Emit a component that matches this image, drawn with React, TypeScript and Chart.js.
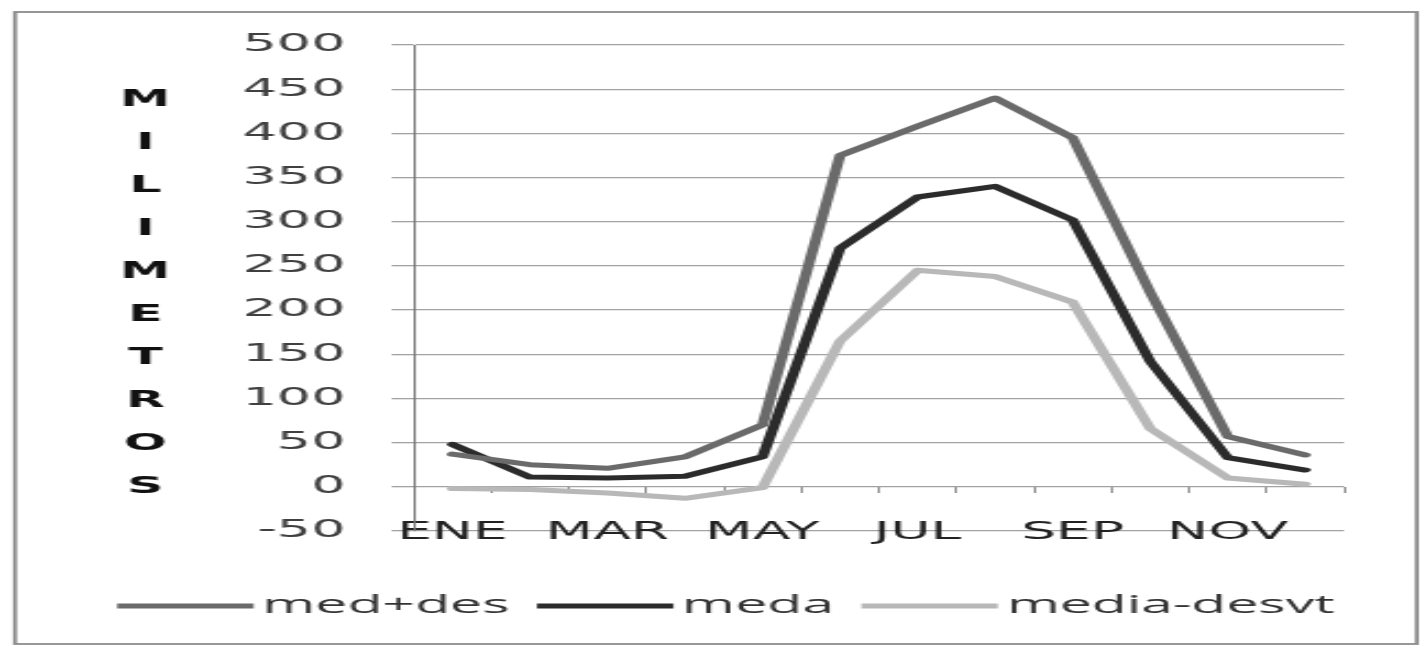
import React, { useEffect, useRef } from 'react';
import { Chart, registerables } from 'chart.js';

Chart.register(...registerables);

// ---- data ----
const MONTHS = ['ENE', 'FEB', 'MAR', 'ABR', 'MAY', 'JUN', 'JUL', 'AGO', 'SEP', 'OCT', 'NOV', 'DIC'];
const MED_DES = [37, 25, 21, 34, 70, 375, 408, 440, 395, 220, 57, 36];
const MEDA = [48, 11, 10, 12, 34, 270, 328, 340, 302, 142, 33, 19];
const MEDIA_DESVT = [-2, -3, -7, -13, -1, 165, 245, 238, 209, 66, 10, 3];
const SERIES_NAMES = ['med+des', 'meda', 'media-desvt'];
const SERIES_COLORS = ['#6a6a6a', '#2b2b2b', '#b8b8b8'];
const Y_TITLE = 'MILIMETROS';
const Y_MIN = -50;
const Y_MAX = 500;
const Y_STEP = 50;

// The reference is horizontally stretched: draw on a narrow canvas, stretch via CSS.
const VIEW_W = 1421;
const VIEW_H = 646;
const SX = 2.2;
const CW = Math.round(VIEW_W / SX);

const decorPlugin = {
  id: 'decor',
  beforeDraw(chart: any) {
    const { ctx, width, height } = chart;
    ctx.save();
    ctx.fillStyle = '#ffffff';
    ctx.fillRect(0, 0, width, height);
    ctx.restore();
  },
  afterDraw(chart: any) {
    const ctx = chart.ctx;
    ctx.save();
    // stacked vertical axis title
    ctx.font = 'bold 23px "DejaVu Sans"';
    ctx.fillStyle = '#111111';
    ctx.textAlign = 'center';
    ctx.textBaseline = 'middle';
    Y_TITLE.split('').forEach((ch, i) => ctx.fillText(ch, 66, 100 + i * 43));

    // legend
    ctx.font = '26px "Open Sans"';
    ctx.textBaseline = 'alphabetic';
    ctx.textAlign = 'left';
    const boxW = 62;
    const gap = 4;
    const itemGap = 12.5;
    const ds = chart.data.datasets;
    const widths = ds.map((d: any) => ctx.measureText(d.label).width);
    const total = widths.reduce((a: number, w: number) => a + boxW + gap + w, 0) + itemGap * (widths.length - 1);
    let x = 330 - total / 2;
    ds.forEach((d: any, i: number) => {
      ctx.fillStyle = d.borderColor;
      ctx.fillRect(x, 603.5, boxW, 5);
      x += boxW + gap;
      ctx.fillStyle = '#333333';
      ctx.fillText(d.label, x, 613);
      x += widths[i] + itemGap;
    });

    // outer frame
    ctx.strokeStyle = '#8c8c8c';
    ctx.lineWidth = 1.8;
    ctx.strokeRect(6.8, 12, 637.3, 632);
    ctx.restore();
  },
};

export default function App() {
  const canvasRef = useRef<HTMLCanvasElement | null>(null);

  useEffect(() => {
    const canvas = canvasRef.current;
    if (!canvas) return;
    const values = [MED_DES, MEDA, MEDIA_DESVT];
    const chart = new Chart(canvas, {
      type: 'line',
      data: {
        labels: MONTHS,
        datasets: SERIES_NAMES.map((name, i) => ({
          label: name,
          data: values[i],
          borderColor: SERIES_COLORS[i],
          backgroundColor: SERIES_COLORS[i],
          borderWidth: 5,
          pointRadius: 0,
          pointHoverRadius: 0,
          tension: 0,
          fill: false,
          borderJoinStyle: 'round' as const,
          borderCapStyle: 'round' as const,
        })),
      },
      options: {
        animation: false,
        responsive: false,
        maintainAspectRatio: false,
        devicePixelRatio: 1,
        layout: { padding: { left: 0, right: 35, top: 45, bottom: 115 } },
        plugins: {
          legend: { display: false },
          tooltip: { enabled: false },
          title: { display: false },
        },
        scales: {
          x: {
            type: 'category',
            position: { y: 0 } as any,
            offset: true,
            border: { display: false },
            grid: {
              offset: true,
              drawOnChartArea: false,
              drawTicks: true,
              tickLength: 6,
              color: '#8a8a8a',
              lineWidth: 1,
            },
            ticks: {
              autoSkip: false,
              maxRotation: 0,
              minRotation: 0,
              padding: 25,
              color: '#222222',
              font: { family: '"DejaVu Sans"', size: 25 },
              callback: (_v: any, i: number) => (i % 2 === 0 ? MONTHS[i] : ''),
            },
          },
          y: {
            min: Y_MIN,
            max: Y_MAX,
            afterFit: (scale: any) => {
              scale.width = 188;
            },
            border: { display: true, color: '#777777', width: 1 },
            grid: {
              color: '#a2a2a2',
              lineWidth: 1.3,
              drawTicks: true,
              tickLength: 10,
            },
            ticks: {
              stepSize: Y_STEP,
              padding: 21,
              color: '#404040',
              font: { family: '"DejaVu Sans"', size: 24.5 },
            },
          },
        },
      },
      plugins: [decorPlugin],
    });
    return () => chart.destroy();
  }, []);

  return (
    <div
      style={{
        position: 'fixed',
        left: 0,
        top: 0,
        width: VIEW_W + 'px',
        height: VIEW_H + 'px',
        background: '#ffffff',
        overflow: 'hidden',
      }}
    >
      <canvas
        ref={canvasRef}
        width={CW}
        height={VIEW_H}
        style={{ width: VIEW_W + 'px', height: VIEW_H + 'px', display: 'block' }}
      />
    </div>
  );
}
